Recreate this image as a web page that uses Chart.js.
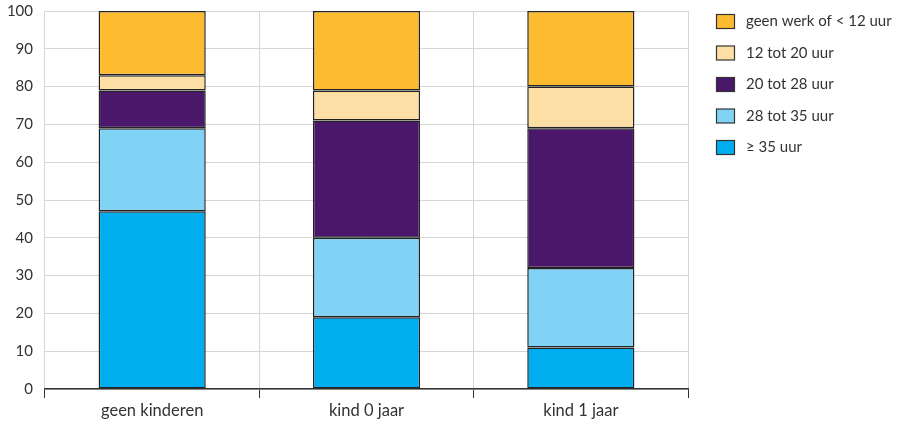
<!DOCTYPE html>
<html>
<head>
<meta charset="utf-8">
<script src="https://cdn.jsdelivr.net/npm/chart.js@4/dist/chart.umd.min.js"></script>
<style>
  html, body { margin: 0; padding: 0; background: #fff; }
  #wrap { width: 912px; height: 427px; position: relative; }
</style>
</head>
<body>
<div id="wrap"><canvas id="chart"></canvas></div>
<script>
// categories and series (percentages, stacked bottom to top)
const categories = ['geen kinderen', 'kind 0 jaar', 'kind 1 jaar'];
const seriesLabels = ['≥ 35 uur', '28 tot 35 uur', '20 tot 28 uur', '12 tot 20 uur', 'geen werk of < 12 uur'];
const vol35      = [47, 19, 11];
const van28tot35 = [22, 21, 21];
const van20tot28 = [10, 31, 37];
const van12tot20 = [4, 8, 11];
const minder12   = [17, 21, 20];
const yTicks = [0, 10, 20, 30, 40, 50, 60, 70, 80, 90, 100];

const colors = ['#00adee', '#80d3f5', '#4a176a', '#fddea5', '#fdbb30'];
const seriesValues = [vol35, van28tot35, van20tot28, van12tot20, minder12];

const FONT = 'Lato, "Open Sans", sans-serif';
const TEXT = '#333';

// legend drawn on canvas at the right, top item = top of stack
const sideLegend = {
  id: 'sideLegend',
  afterDraw(chart) {
    const ctx = chart.ctx;
    const ds = chart.data.datasets.slice().reverse();
    ctx.save();
    ctx.font = '15px ' + FONT;
    ctx.textBaseline = 'middle';
    ds.forEach((d, i) => {
      const y = 21.5 + i * 31.5;
      ctx.fillStyle = d.backgroundColor;
      ctx.fillRect(716.5, y - 7, 18, 14);
      ctx.strokeStyle = '#333';
      ctx.lineWidth = 1.2;
      ctx.strokeRect(716.5, y - 7, 18, 14);
      ctx.fillStyle = TEXT;
      ctx.fillText(d.label, 746, y);
    });
    ctx.restore();
  }
};

new Chart(document.getElementById('chart'), {
  type: 'bar',
  data: {
    labels: categories,
    datasets: seriesValues.map((vals, i) => ({
      label:           seriesLabels[i],
      data:            vals,
      backgroundColor: colors[i],
      borderColor:     '#222',
      borderWidth:     1.5,
      borderSkipped:   false,
      barPercentage:   0.5,
      categoryPercentage: 1,
    })),
  },
  options: {
    responsive:          true,
    maintainAspectRatio: false,
    animation:           false,
    layout: { padding: { top: 11, right: 224, left: 0, bottom: 0 } },
    plugins: {
      legend:  { display: false },
      tooltip: { enabled: false },
    },
    scales: {
      x: {
        stacked: true,
        grid:   { color: '#d6d6d6', lineWidth: 1, tickColor: '#333', tickLength: 9, offset: true },
        border: { color: '#333', width: 1.5 },
        ticks:  { color: TEXT, font: { family: FONT, size: 16.5 }, padding: 3 },
        afterFit: s => { s.height = 38; },
      },
      y: {
        stacked: true,
        min: 0,
        max: 100,
        afterBuildTicks: s => { s.ticks = yTicks.map(v => ({ value: v })); },
        grid:   { color: '#d6d6d6', lineWidth: 1, drawTicks: false },
        border: { display: false },
        ticks:  { color: TEXT, font: { family: FONT, size: 15 }, padding: 12 },
        afterFit: s => { s.width = 45; s.paddingTop = 0; s.paddingBottom = 0; },
      },
    },
  },
  plugins: [sideLegend],
});
</script>
</body>
</html>
